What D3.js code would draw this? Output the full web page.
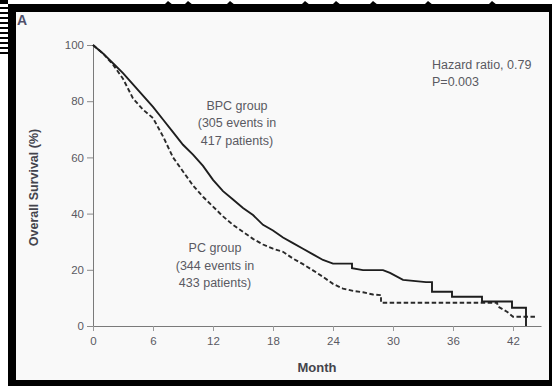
<!DOCTYPE html>
<html>
<head>
<meta charset="utf-8">
<script src="https://cdn.jsdelivr.net/npm/d3@7"></script>
<style>
  body { margin: 0; background: #fff; }
  svg { display: block; }
</style>
</head>
<body>
<div class="container"></div>
<script>
// Kaplan-Meier curves: [month, overall survival %]
const bpcCurve = [
  [0, 100], [1, 97], [2, 93.5], [3, 90], [4, 86], [5, 82], [6, 78], [7, 73.5],
  [8, 69], [9, 64.5], [10, 61], [11, 57], [12, 52], [13, 48], [14, 45], [15, 42],
  [16, 39.5], [17, 36], [18, 34], [19, 31.5], [20, 29.5], [21, 27.5], [22, 25.5],
  [23, 23.5], [24, 22.2], [25.9, 22.2], [25.9, 20.6], [27, 19.9], [29, 19.9],
  [29.7, 18.9], [31, 16.4], [33.3, 15.6], [33.9, 15.6], [33.9, 12.2], [35.9, 12.2],
  [35.9, 10.4], [38.9, 10.4], [38.9, 8.7], [41.9, 8.7], [41.9, 6.5], [43.3, 6.5],
  [43.3, 0]
];
const pcCurve = [
  [0, 100], [1, 97], [2, 93], [3, 88], [4, 81], [5, 77], [6, 74], [7, 67.5],
  [8, 60], [9, 55], [10, 50], [11, 46], [12, 42.5], [13, 39], [14, 36], [15, 33.5],
  [16, 31], [17, 29], [18, 27.5], [19, 26.4], [20, 24], [21, 22], [22, 19.8],
  [23, 17.5], [24, 15], [25, 13.3], [26, 12.5], [27, 12], [28, 11.2], [28.8, 11],
  [28.8, 8.3], [40.4, 8.3], [40.5, 6.9], [41.4, 5.1], [42, 3.3], [44.4, 3.3]
];
const xTicks = [0, 6, 12, 18, 24, 30, 36, 42];
const yTicks = [0, 20, 40, 60, 80, 100];
const groupLabels = [
  { month: 14.4, pct: 76.9, lines: ["BPC group", "(305 events in", "417 patients)"] },
  { month: 12.2, pct: 26.3, lines: ["PC group", "(344 events in", "433 patients)"] }
];
const statLines = ["Hazard ratio, 0.79", "P=0.003"];
const topSpikes = [168, 188, 230, 305, 336, 373, 428, 492];

const W = 552, H = 386;
const margin = { top: 45, right: 11, bottom: 60, left: 93 };
const textColor = "#5a5a62";
const font = "'Liberation Sans', Arial, sans-serif";

const svg = d3.select(".container")
  .append("svg")
  .attr("width", W)
  .attr("height", H)
  .attr("viewBox", `0 0 ${W} ${H}`);

// 外枠
svg.append("rect").attr("x", 0).attr("y", 0).attr("width", W).attr("height", H).attr("fill", "#fff");
svg.append("rect").attr("x", 8).attr("y", 4).attr("width", W - 8).attr("height", H - 4).attr("fill", "#000");
svg.append("rect").attr("x", 16).attr("y", 12).attr("width", 533).attr("height", 368).attr("fill", "#f9f9f9");
// 左端のはしご模様
svg.append("rect").attr("x", 0).attr("y", 0).attr("width", 8).attr("height", 4).attr("fill", "#000");
d3.range(7, 56, 5).forEach(v => {
  svg.append("rect").attr("x", 0).attr("y", v).attr("width", 8).attr("height", 2).attr("fill", "#000");
});
// 上端の小さな突起
topSpikes.forEach(v => {
  svg.append("path").attr("d", `M${v - 4},5 L${v},1 L${v + 5},5 Z`).attr("fill", "#000");
});

const x = d3.scaleLinear()
  .domain([0, 44.8])
  .range([margin.left, W - margin.right - 0]);
const y = d3.scaleLinear()
  .domain([0, 100])
  .range([H - margin.bottom, margin.top]);

// Y軸
const yAxis = svg.append("g")
  .attr("transform", `translate(${margin.left},0)`)
  .call(d3.axisLeft(y).tickValues(yTicks).tickSize(6).tickPadding(3).tickSizeOuter(0));
yAxis.select(".domain").attr("stroke", "#7a7a7a");
yAxis.selectAll(".tick line").attr("stroke", "#8a8a8a");
yAxis.selectAll(".tick text")
  .attr("fill", textColor).attr("font-size", "11.5px").attr("font-family", font);

// X軸
const xAxis = svg.append("g")
  .attr("transform", `translate(0,${H - margin.bottom})`)
  .call(d3.axisBottom(x).tickValues(xTicks).tickSize(5).tickPadding(6).tickSizeOuter(0));
xAxis.select(".domain").attr("stroke", "#7a7a7a");
xAxis.selectAll(".tick line").attr("stroke", "#9a9a9a");
xAxis.selectAll(".tick text")
  .attr("fill", textColor).attr("font-size", "11.5px").attr("font-family", font);

// 軸ラベル
svg.append("text")
  .attr("x", (x.range()[0] + x.range()[1]) / 2)
  .attr("y", 372)
  .attr("text-anchor", "middle")
  .attr("font-size", "13px").attr("font-weight", "bold")
  .attr("font-family", font).attr("fill", "#44444c")
  .text("Month");
svg.append("text")
  .attr("transform", `translate(38,${(y(0) + y(100)) / 2 + 2}) rotate(-90)`)
  .attr("text-anchor", "middle")
  .attr("font-size", "12.5px").attr("font-weight", "bold")
  .attr("font-family", font).attr("fill", "#44444c")
  .text("Overall Survival (%)");

// パネル記号
svg.append("text")
  .attr("x", 17).attr("y", 25)
  .attr("font-size", "14px").attr("font-weight", "bold")
  .attr("font-family", font).attr("fill", "#50506a")
  .text("A");

// 曲線
const line = d3.line()
  .x(d => x(d[0]))
  .y(d => y(d[1]));
svg.append("path")
  .datum(pcCurve)
  .attr("fill", "none")
  .attr("stroke", "#2a2a2a")
  .attr("stroke-width", 1.9)
  .attr("stroke-dasharray", "4.5,2.5")
  .attr("d", line);
svg.append("path")
  .datum(bpcCurve)
  .attr("fill", "none")
  .attr("stroke", "#1e1e1e")
  .attr("stroke-width", 1.9)
  .attr("d", line);

// 注記
groupLabels.forEach(g => {
  const t = svg.append("text")
    .attr("text-anchor", "middle")
    .attr("font-size", "12.5px")
    .attr("font-family", font)
    .attr("fill", textColor);
  g.lines.forEach((s, i) => {
    t.append("tspan").attr("x", x(g.month)).attr("y", y(g.pct) + i * 17.5).text(s);
  });
});
const st = svg.append("text")
  .attr("font-size", "12.5px")
  .attr("font-family", font)
  .attr("fill", textColor);
statLines.forEach((s, i) => {
  st.append("tspan").attr("x", 432).attr("y", 69 + i * 17).text(s);
});
</script>
</body>
</html>
